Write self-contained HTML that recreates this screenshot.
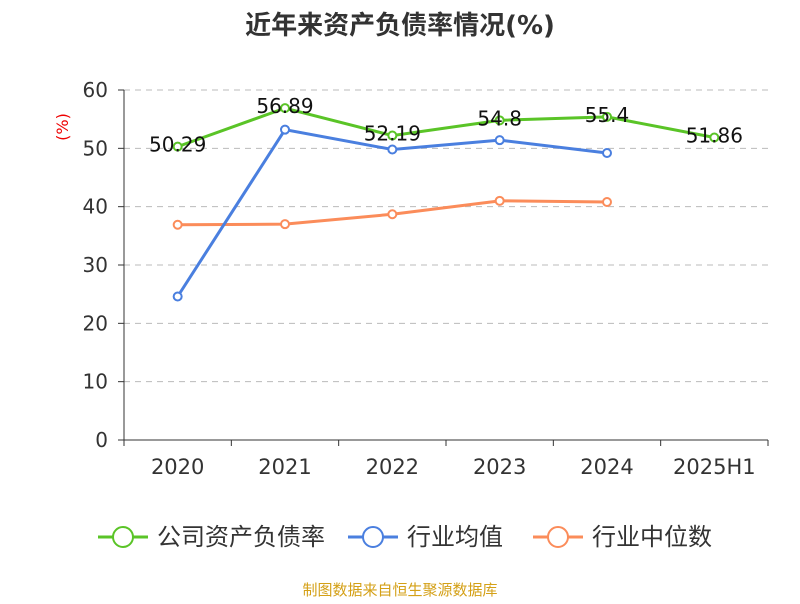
<!DOCTYPE html>
<html><head><meta charset="utf-8"><style>
body{margin:0;background:#fff;font-family:"DejaVu Sans","Noto Sans CJK SC",sans-serif}
</style></head><body>
<svg id="c" width="800" height="600" xmlns="http://www.w3.org/2000/svg" font-family="DejaVu Sans, Noto Sans CJK SC, sans-serif">
<text x="400" y="34" text-anchor="middle" font-size="26" font-weight="bold" fill="#333">近年来资产负债率情况(%)</text>
<text transform="translate(68,127) rotate(-90)" text-anchor="middle" font-size="16" fill="#e00">(%)</text>
<g id="grid"></g><g id="axes"></g><g id="series"></g>
<g>
<g><line x1="98" y1="537" x2="148" y2="537" stroke="#5ac427" stroke-width="3"/><circle cx="123" cy="537" r="10" fill="#fff" stroke="#5ac427" stroke-width="2"/><text x="157" y="545" font-size="24" fill="#333">公司资产负债率</text></g>
<g><line x1="348" y1="537" x2="398" y2="537" stroke="#4a7fdf" stroke-width="3"/><circle cx="373" cy="537" r="10" fill="#fff" stroke="#4a7fdf" stroke-width="2"/><text x="407" y="545" font-size="24" fill="#333">行业均值</text></g>
<g><line x1="533" y1="537" x2="583" y2="537" stroke="#fb8c5a" stroke-width="3"/><circle cx="558" cy="537" r="10" fill="#fff" stroke="#fb8c5a" stroke-width="2"/><text x="592" y="545" font-size="24" fill="#333">行业中位数</text></g>
</g>
<text x="400" y="595" text-anchor="middle" font-size="15" fill="#d4a017">制图数据来自恒生聚源数据库</text>
</svg>
<script>
const categories=["2020","2021","2022","2023","2024","2025H1"];
const companyValues=[50.29,56.89,52.19,54.8,55.4,51.86];
const averageValues=[24.6,53.2,49.8,51.4,49.2];
const medianValues=[36.9,37.0,38.7,41.0,40.8];
const yTicks=[0,10,20,30,40,50,60];
const NS="http://www.w3.org/2000/svg";
const x0=124,x1=768,yTop=90,yBot=440,yMax=60;
const band=(x1-x0)/categories.length;
const xs=i=>x0+band*(i+0.5);
const ys=v=>yBot-(v/yMax)*(yBot-yTop);
function mk(tag,attrs,parent,txt){const e=document.createElementNS(NS,tag);for(const k in attrs)e.setAttribute(k,attrs[k]);if(txt!==undefined)e.textContent=txt;parent.appendChild(e);return e;}
const grid=document.getElementById('grid'),axes=document.getElementById('axes'),series=document.getElementById('series');
yTicks.forEach(t=>{
 if(t>0){const g=mk('line',{x1:x0,x2:x1,y1:ys(t),y2:ys(t),stroke:'#bbb','stroke-dasharray':'6,5','stroke-width':1},grid);
 
 }
 const tk=mk('line',{x1:x0-6,x2:x0,y1:ys(t),y2:ys(t),stroke:'#333'},axes);
 
 
 const l=mk('text',{x:x0-16,y:ys(t)+7,'text-anchor':'end','font-size':20,fill:'#333'},axes,t);
 
 
});
const ya=mk('line',{x1:x0,x2:x0,y1:yTop,y2:yBot,stroke:'#333'},axes);


const xa=mk('line',{x1:x0,x2:x1,y1:yBot,y2:yBot,stroke:'#333'},axes);


for(let i=0;i<=categories.length;i++){const t=mk('line',{x1:x0+band*i,x2:x0+band*i,y1:yBot,y2:yBot+6,stroke:'#333'},axes);
 
 }
categories.forEach((c,i)=>{const t=mk('text',{x:xs(i),y:yBot+34,'text-anchor':'middle','font-size':21,fill:'#333'},axes,c);
 
 });
function drawSeries(vals,color,name,labels){
 const g=mk('g',{},series);
 
 
 const p=mk('polyline',{points:vals.map((v,i)=>xs(i)+','+ys(v)).join(' '),fill:'none',stroke:color,'stroke-width':3},g);
 
 
 vals.forEach((v,i)=>{const c=mk('circle',{cx:xs(i),cy:ys(v),r:4,fill:'#fff',stroke:color,'stroke-width':2},g);
 
 
 if(labels){const t=mk('text',{x:xs(i),y:ys(v)+5,'text-anchor':'middle','font-size':20,fill:'#111'},g,v);
 
 }});
}
drawSeries(medianValues,'#fb8c5a','industry-median-series',false);
drawSeries(averageValues,'#4a7fdf','industry-average-series',false);
drawSeries(companyValues,'#5ac427','company-series',true);
</script>
</body></html>
